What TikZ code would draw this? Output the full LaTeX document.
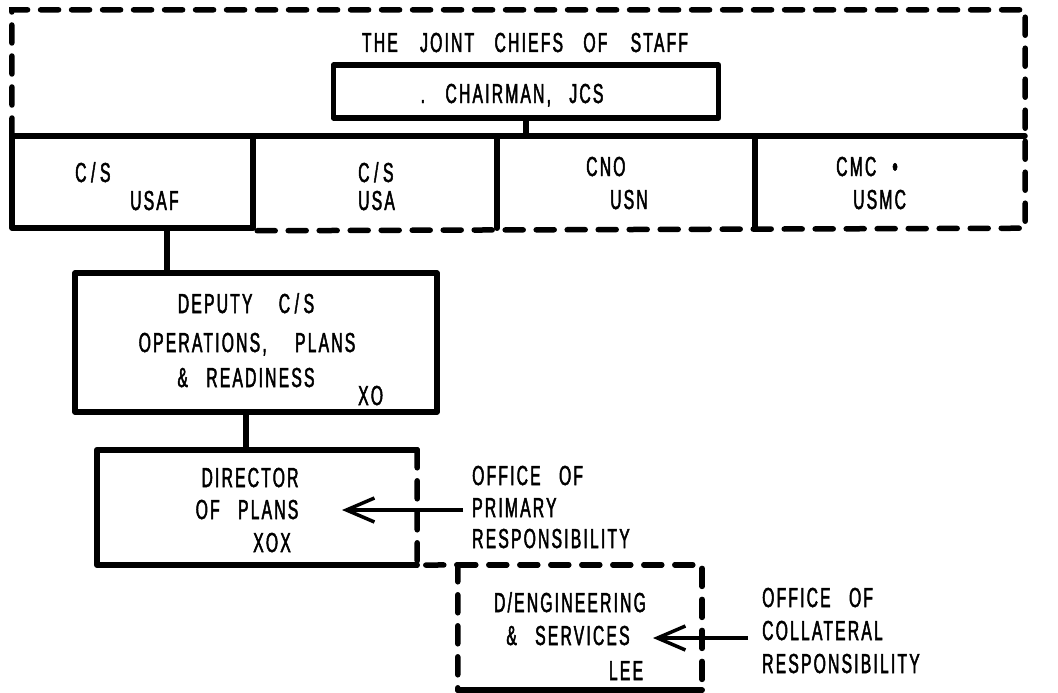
\documentclass[tikz,border=0pt]{standalone}
\usepackage{fontspec}
\setmainfont{Liberation Sans}[FakeStretch=0.57,LetterSpace=8,WordSpace=2.8,FakeBold=1.8]
\usetikzlibrary{arrows.meta}
\begin{document}
\begin{tikzpicture}[x=1pt,y=-1pt,
  font=\fontsize{27.5}{30}\selectfont,
  box/.style={draw, line width=5.5pt, inner sep=0pt, line join=round},
  area/.style={draw=none, inner sep=0pt},
  solidln/.style={line width=5.5pt, line join=round, line cap=round},
  dashln/.style={line width=5.5pt, line cap=round, dash pattern=on 18pt off 13pt},
  lbl/.style={inner sep=0pt, anchor=base west},
  clbl/.style={inner sep=0pt, anchor=base},
  arr/.style={line width=3.5pt, -{Straight Barb[length=28pt,width=24pt,line width=3.5pt]}}]
\useasboundingbox (0,0) rectangle (1058,693);
% Joint Chiefs
\node[area, minimum width=1013pt, minimum height=218pt] (jcs) at (518.5,119) {};
\node[clbl] (title) at (525,52) {THE\hspace{4pt} JOINT\hspace{2pt} CHIEFS\hspace{2pt} OF\hspace{5pt} STAFF};
\node[box, minimum width=385pt, minimum height=53pt] (chair) at (526,91.5) {};
\node[clbl] (chairtxt) at (512,103) {. CHAIRMAN, JCS};
\coordinate (barL) at (12,136);
\coordinate (barR) at (1025,136);
\node[box, minimum width=241pt, minimum height=92pt] (usaf) at (132.5,182) {};
\coordinate (d1) at (497,136);
\coordinate (d2) at (755,136);
\draw[dashln] (barL) -- (jcs.north west) -- (jcs.north east) -- (jcs.south east) -- (usaf.south east);
\draw[solidln] (barL) -- (barR);
\draw[solidln] (d1) -- (d1 |- jcs.south);
\draw[solidln] (d2) -- (d2 |- jcs.south);
\draw[solidln] (chair.south) -- (chair.south |- barL);
\node[lbl] (usaf1) at (75,182) {C\,/\,S};
\node[lbl] (usaf2) at (130,210) {USAF};
\node[lbl] (usa1) at (358,182) {C\,/\,S};
\node[lbl] (usa2) at (358,210) {USA};
\node[lbl] (cno1) at (586,176) {CNO};
\node[lbl] (cno2) at (610,209) {USN};
\node[lbl] (cmc1) at (836,176) {CMC\hspace{16pt}•};
\node[lbl] (cmc2) at (853,209) {USMC};
% Deputy
\node[box, minimum width=362pt, minimum height=139pt] (dep) at (256,342.5) {};
\coordinate (c1) at (167,0);
\draw[solidln] (usaf.south -| c1) -- (dep.north -| c1);
\node[clbl] (dep1) at (246,313) {DEPUTY\hspace{8pt} C\,/\,S};
\node[clbl] (dep2) at (247,352) {OPERATIONS,\hspace{10pt} PLANS};
\node[clbl] (dep3) at (246,387) {\& READINESS};
\node[lbl] (dep4) at (358,405) {XO};
% Director
\node[area, minimum width=320pt, minimum height=115pt] (dir) at (257,507.5) {};
\node[area, minimum width=244pt, minimum height=125pt] (de) at (580,627.5) {};
\coordinate (c2) at (246,0);
\draw[solidln] (dep.south -| c2) -- (dir.north -| c2);
\draw[solidln] (dir.north east) -- (dir.north west) -- (dir.south west) -- (dir.south east);
\draw[dashln] (dir.north east) -- (dir.south east) -- (de.north west) -- (de.south west);
\draw[dashln] (de.north west) -- (de.north east) -- (de.south east);
\draw[solidln] (de.south west) -- (de.south east);
\node[clbl] (dir1) at (250,487) {DIRECTOR};
\node[clbl] (dir2) at (247,519) {OF PLANS};
\node[clbl] (dir3) at (272,552) {XOX};
\node[clbl] (de1) at (570,612) {D/ENGINEERING};
\node[clbl] (de2) at (568,645) {\& SERVICES};
\node[clbl] (de3) at (626,680) {LEE};
% Responsibility labels
\node[lbl] (pr1) at (472,485) {OFFICE OF};
\node[lbl] (pr2) at (472,517) {PRIMARY};
\node[lbl] (pr3) at (472,548) {RESPONSIBILITY};
\node[lbl] (co1) at (762,607) {OFFICE OF};
\node[lbl] (co2) at (762,640) {COLLATERAL};
\node[lbl] (co3) at (762,673) {RESPONSIBILITY};
\coordinate (a1s) at (463,510);
\coordinate (a1e) at (342,510);
\coordinate (a2s) at (748,638);
\coordinate (a2e) at (653,638);
\draw[arr] (a1s) -- (a1e);
\draw[arr] (a2s) -- (a2e);
\end{tikzpicture}
\end{document}
